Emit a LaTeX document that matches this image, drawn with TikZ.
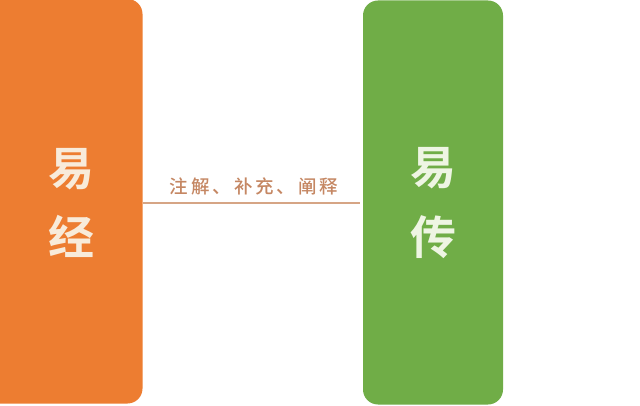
\documentclass[tikz,border=0pt]{standalone}
\usepackage{fontspec}
\newfontfamily\cjk{Noto Sans CJK SC}
\newfontfamily\cjkb{Noto Sans CJK SC Bold}
\newfontfamily\cjkls[LetterSpace=16]{Noto Sans CJK SC Medium}
\definecolor{orangebox}{HTML}{ED7D31}
\definecolor{greenbox}{HTML}{70AD47}
\definecolor{linetan}{HTML}{D6A585}
\definecolor{labeltan}{HTML}{C58763}
\definecolor{creamtxt}{HTML}{F8EBDA}
\definecolor{greentxt}{HTML}{EEF5E3}
\begin{document}
\begin{tikzpicture}[x=1pt,y=-1pt,
  column/.style={rounded corners=15pt, draw=none},
  bigchar/.style={font=\cjkb\fontsize{46}{46}\selectfont, inner sep=0pt, anchor=center},
  linklabel/.style={font=\cjkls\fontsize{18.5}{18.5}\selectfont, text=labeltan, inner sep=0pt, anchor=center}]
\useasboundingbox (0,0) rectangle (640,406);
\fill[white] (0,0) rectangle (640,406);
\fill[orangebox, column] (-15,-1) rectangle (142.5,403.5);
\fill[greenbox, column] (363,0.5) rectangle (503,404.5);
\node (lbox) at (71,201) {};
\node (rbox) at (433,201) {};
\coordinate (lend) at (143,203);
\coordinate (rend) at (360,203);
\node[bigchar, text=creamtxt] (yi1) at (71,169) {易};
\node[bigchar, text=creamtxt] (jing) at (71,236) {经};
\node[bigchar, text=greentxt] (yi2) at (433,168) {易};
\node[bigchar, text=greentxt] (zhuan) at (433,237) {传};
\draw[linetan, line width=2pt] (lend) -- (rend);
\node[linklabel] (lab) at (254,186.5) {注解、补充、阐释};
\end{tikzpicture}
\end{document}
